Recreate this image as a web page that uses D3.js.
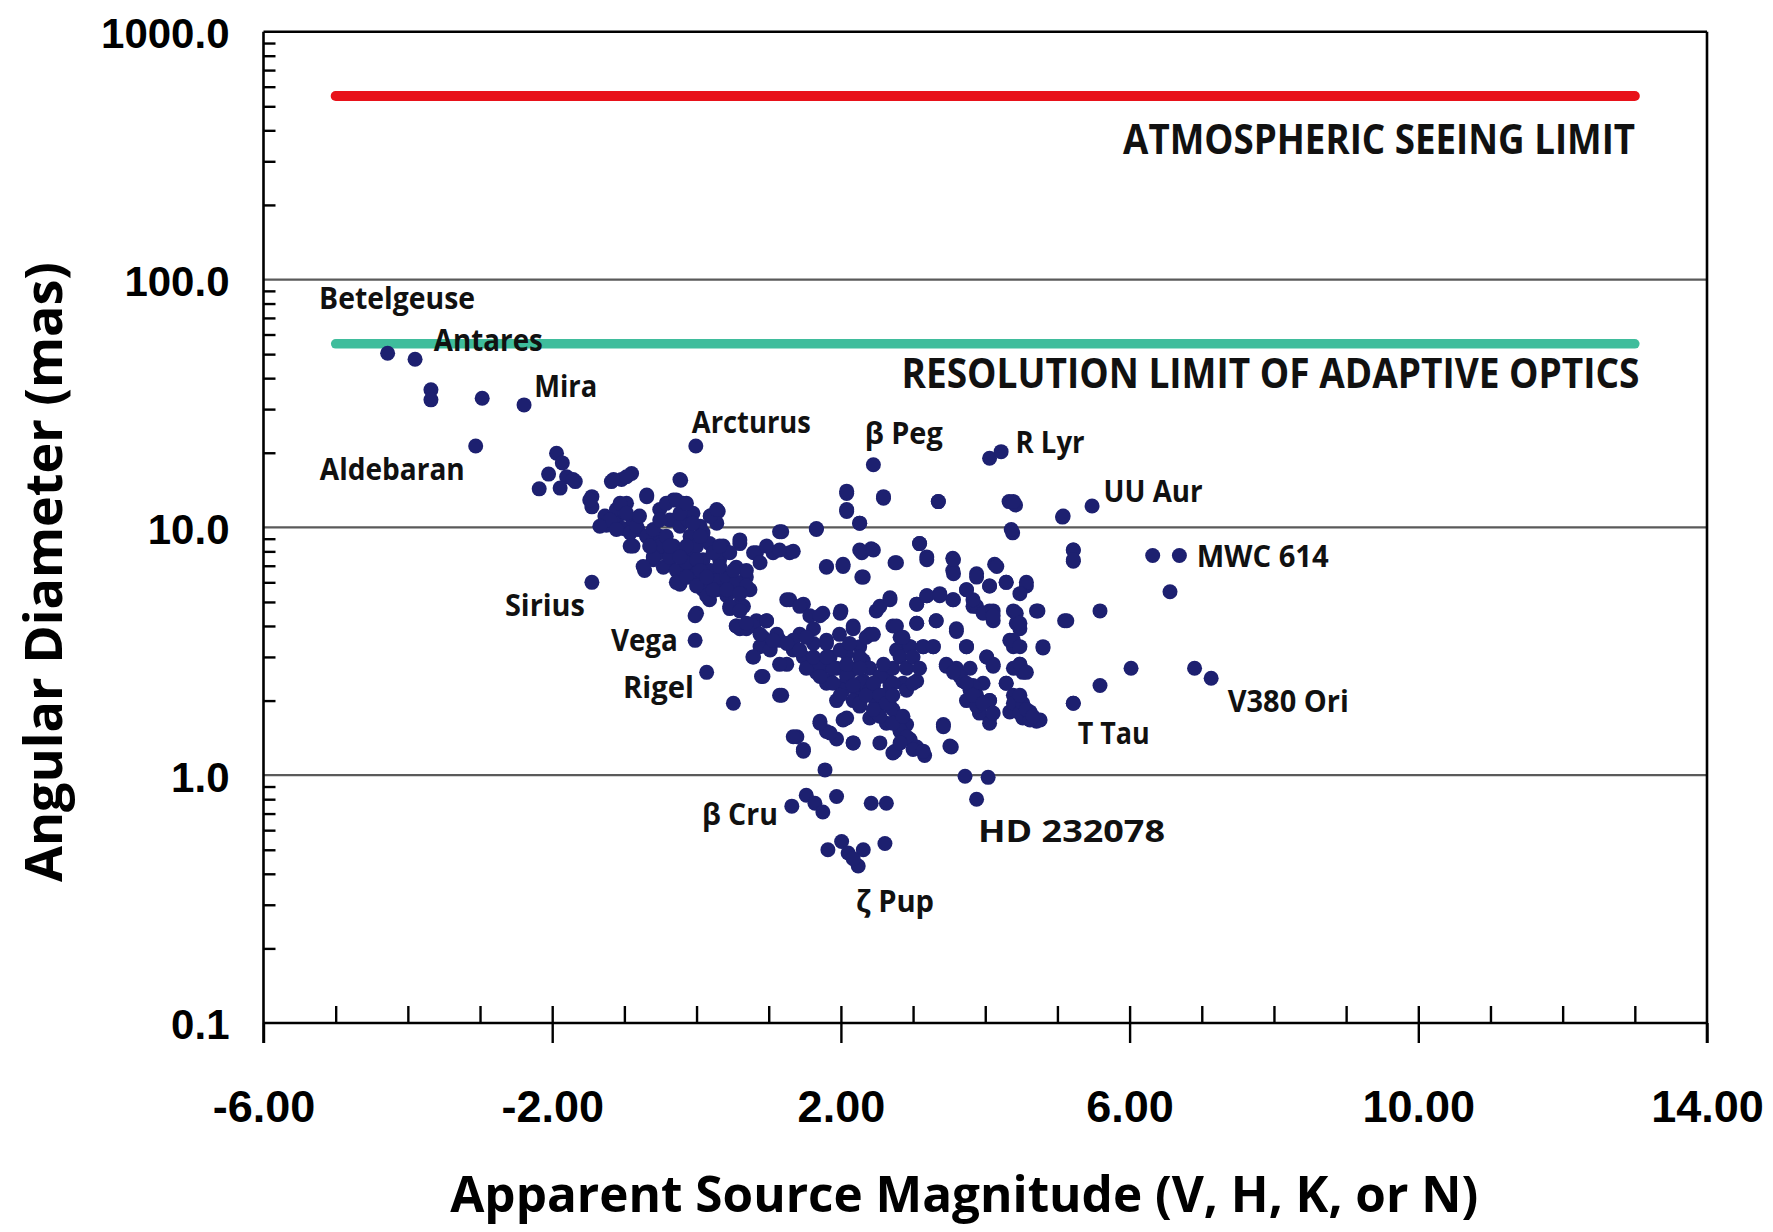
<!DOCTYPE html>
<html>
<head>
<meta charset="utf-8">
<title>Angular diameter vs apparent magnitude</title>
<script src="https://cdn.jsdelivr.net/npm/d3@7"></script>
<style>
  body { margin: 0; background: #ffffff; }
  svg { display: block; }
</style>
</head>
<body>
<svg id="chart" width="1773" height="1232"></svg>
<script>
// ---- Axis ticks ----
const xTicks = [-6, -2, 2, 6, 10, 14];
const xTickLabels = ["-6.00", "-2.00", "2.00", "6.00", "10.00", "14.00"];
const yTicks = [0.1, 1, 10, 100, 1000];
const yTickLabels = ["0.1", "1.0", "10.0", "100.0", "1000.0"];

// ---- Reference limits (mas) and the magnitude span they are drawn over ----
const seeingLimit = 550;
const aoLimit = 55;
const limitSpan = [-5, 13];

// ---- Stars: apparent magnitude and angular diameter (mas) ----
const starMag = [
  -4.28, -3.90, -3.68, -3.68, -2.97, -2.39, -3.06, -0.01,
  -1.94, -1.86, -2.05, -1.80, -1.68, -2.18, -1.89, -1.45, -1.45, -1.18, -1.04, -0.90, -0.69, -0.22,
  -1.25, -1.27, -1.11, -1.11, -0.97, -0.99, -1.02, -0.88, -0.81, -0.88, -0.69, -0.60, -0.72, -0.51,
  -0.37, -0.28, -0.23, -0.23, -0.09,
  -0.51, -0.32, -0.19, -0.37, -0.23, -0.12, -0.09, 0.09, 0.19, 0.30, 0.28,
  1.18, 1.66, 2.08, 2.08, -1.45,
  -0.92, -0.51, -0.32, -0.46, -0.14, -0.60, -0.05, 0.05,
  0.00, 0.18, 0.37, 0.60, 0.83, 1.06, 1.29,
  -0.05, 0.09, 0.23, 0.37, 0.55, 0.69, 0.51, 0.74, 0.09, 0.18, 0.00, -0.02, 0.14, 0.51,
  0.46, 0.65, 0.60, 0.78, 0.90, 1.18, 0.83, 0.97, 1.02, 1.15, 1.25, 1.29, 1.48, 1.75, 2.00,
  1.43, 1.62, 1.80, 1.98, 2.17, 2.40, 1.85, 2.08, 2.26,
  1.66, 1.85, 2.03, 2.22, 2.35, 2.49, 1.75, 1.94, 2.12, 2.31, 2.45, 2.22, 2.31,
  2.68, 2.77, 2.91, 2.95, 2.82, 3.05, 3.16, 2.75, 2.40, 2.26, 2.08, 2.17, 1.71, 1.80, 1.94, 1.39, 1.48, 1.78,
  2.63, 2.68, 2.86, 3.05, 2.77, 2.86, 2.95, 3.14, 3.28, 2.72, 2.82, 3.05, 3.05, 3.19, 3.37, 3.55, 3.32, 3.60, 3.74,
  3.46, 3.60, 3.79, 3.69, 3.79, 3.88, 3.92, 4.06, 3.97, 4.06, 3.42, 3.53,
  4.02, 4.11, 4.29, 4.39, 4.34, 4.48, 4.52, 4.71, 4.62, 4.48, 4.52, 4.34, 4.39, 4.80, 4.73, 5.10, 5.59, 6.02, 5.59, 5.22, 6.90, 7.13,
  4.43, 4.43, 4.48, 4.57, 4.29, 4.13, 3.88, 4.06, 3.74, 3.83, 4.06, 4.11, 3.55, 3.55, 3.19, 3.09, 2.75, 2.31, 2.29, 2.42, 1.80, 2.03, 2.49, 2.68,
  5.22, 5.22, 6.32, 6.69, 6.56,
  3.72, 4.04, 3.88,
  1.32, 1.52, 1.64, 1.75, 1.94, 2.42, 2.63,
  0.55, 0.69, 0.92, 1.34, 1.48, 1.62, 1.52, 1.94, 2.49, 2.59,
  0.32, 0.46, 0.05, 0.28, 0.42, 0.60,
  1.82, 2.01, 2.10, 2.24, 2.31, 2.61, 2.17,
  2.45, 2.59, 3.35, 4.06, 4.22, 4.33, 4.42, 4.38, 5.07, 5.48, 2.26,
  // main sequence band, giants branch
  -1.71, -1.48, -1.15, -0.97, -1.06, -1.20, -0.97, -0.83, -0.69, -0.51, -0.60, -0.37, -0.28, -0.14,
  -0.05, 0.09, 0.19, 0.28, 0.42, 0.55, 0.69, 0.14, 0.23, 0.32, 0.05, -0.05, -0.23, -0.42, -0.28,
  -0.14, 0.19, 0.28, -0.69, -0.23, -0.92, -0.74, -0.28, -0.02,
  0.60, 0.79, 0.97, 1.15, 1.34, 1.15, 0.88, 0.69, 0.46, 0.60,
  -1.34, -1.11, -0.79, -0.60, -0.51, -0.42, -0.65, -0.37, -0.14, -0.23, 0.00, 0.05, -0.14, 0.00,
  0.23, 0.42, 0.51, 0.60, 0.32, 0.14,
  // central band
  0.55, 0.79, 0.97, 1.11, 1.34, 1.25, 1.43, 1.57, 1.71, 1.62, 1.80, 1.99, 2.12, 2.17, 1.99, 2.26,
  1.71, 1.89, 2.08, 2.26, 1.80, 2.03, 2.17, 2.40, 2.49, 2.72, 2.63, 2.82, 2.96, 3.00, 2.72, 2.54,
  2.40, 2.35, 2.45, 2.54, 2.72, 2.91, 2.72, 2.82, 2.96, 3.14, 3.28, 2.77, 2.86,
  0.88, 1.02, 1.15, 0.79, 0.92, 1.15, 1.34, 1.48, 1.71, 1.85, 2.03, 2.17, 2.26, 2.54, 3.14, 3.42, 3.51,
  0.69, 0.88, 1.06, 1.25, 1.43, 1.62, 1.52, 1.80, 2.08, 1.71, 1.89, 1.99, 2.17, 2.26, 2.35, 2.45,
  2.54, 2.63, 2.45, 2.72, 2.86, 2.91, 2.82, 2.59, 2.91, 3.00, 2.72, 3.00, 3.09,
  // fainter cluster
  3.05, 3.19, 3.37, 3.56, 3.60, 3.74, 3.46, 3.65, 3.83, 3.74, 3.92, 4.06, 3.88, 4.06, 4.02, 4.11,
  4.29, 4.39, 4.48, 4.62, 4.76, 4.52, 4.39, 4.48, 4.57, 4.39, 4.48, 4.39, 4.48, 4.71, 4.80, 5.13,
  5.22, 3.88, 3.97, 4.11, 4.11, 3.83, 3.88, 4.06, 4.29, 4.57, 4.48, 3.74, 4.16, 3.56, 3.56, 3.19,
  3.09, 3.32, 3.05, 2.77, 2.26, 2.45, 2.29, 2.03, 1.80, 2.08, 2.08, 2.26, 2.59, 3.35, 4.39, 4.36,
  5.08, 5.22, 5.22, 1.66, 2.54, 2.68,
  3.56, 3.74, 3.83, 3.97, 4.11, 4.48, 4.57, 4.66
];
const starDiam = [
  50.4, 47.7, 35.9, 32.7, 33.2, 31.2, 21.3, 21.3,
  19.9, 18.2, 16.4, 16.0, 15.3, 14.3, 14.4, 13.3, 12.1, 15.3, 15.6, 16.5, 13.5, 15.5,
  10.2, 11.1, 10.7, 11.8, 12.5, 11.4, 9.9, 10.7, 9.8, 8.4, 9.2, 8.4, 6.7, 7.9,
  7.4, 7.9, 6.5, 5.9, 6.3,
  11.8, 12.9, 12.5, 10.7, 10.1, 10.7, 9.2, 9.5, 11.1, 11.6, 10.4,
  9.6, 9.8, 13.7, 11.6, 6.0,
  9.5, 9.2, 8.4, 6.9, 7.9, 7.4, 11.4, 10.1,
  8.4, 8.6, 8.4, 8.6, 7.9, 7.9, 7.9,
  6.7, 7.4, 6.5, 6.1, 6.9, 6.3, 5.8, 5.6, 5.6, 5.1, 4.5, 3.5, 2.6, 1.95,
  4.7, 4.8, 3.9, 3.0, 2.5, 2.1, 4.2, 4.2, 3.3, 3.5, 2.8, 5.1, 4.9, 4.5, 4.6,
  3.7, 3.4, 3.5, 3.7, 4.0, 3.7, 3.0, 3.1, 3.3,
  2.6, 2.4, 2.3, 2.2, 2.1, 2.0, 2.7, 2.7, 2.6, 2.4, 2.3, 2.7, 2.9,
  1.9, 1.7, 1.6, 1.4, 1.5, 1.3, 1.2, 1.25, 1.7, 1.9, 1.7, 1.35, 1.65, 1.5, 1.4, 1.43, 1.25, 1.05,
  2.5, 2.3, 2.35, 2.4, 3.2, 3.5, 3.3, 3.3, 3.3, 4.0, 3.6, 4.1, 4.9, 5.3, 5.4, 5.1, 4.2, 3.8, 3.3,
  2.8, 2.7, 2.7, 2.4, 2.2, 2.1, 1.8, 1.7, 2.35, 2.0, 1.6, 1.3,
  3.0, 2.8, 2.35, 2.1, 1.8, 1.9, 1.7, 1.65, 1.8, 2.8, 2.6, 3.5, 3.3, 3.3, 4.6, 4.2, 4.6, 2.7, 2.3, 1.95, 2.7, 2.46,
  4.5, 4.1, 3.9, 5.8, 6.0, 7.1, 6.5, 5.8, 5.6, 4.8, 4.6, 4.2, 7.5, 6.7, 7.6, 8.6, 7.2, 6.3, 7.9, 8.2, 6.9, 7.1, 4.6, 5.1,
  8.1, 7.3, 7.7, 7.7, 5.5,
  0.99, 0.98, 0.80,
  0.75, 0.83, 0.77, 0.71, 0.82, 0.77, 0.77,
  4.0, 3.9, 3.6, 3.2, 3.0, 2.9, 2.7, 2.0, 1.8, 2.1,
  7.4, 7.9, 6.1, 5.6, 5.3, 4.9,
  0.50, 0.54, 0.485, 0.43, 0.50, 0.53, 0.46,
  17.9, 13.1, 12.7, 19.0, 20.2, 12.7, 12.3, 9.5, 11.0, 12.2, 10.4,
  // main sequence band, giants branch
  15.6, 12.9, 15.6, 16.0, 12.5, 10.7, 11.4, 10.1, 9.2, 8.4, 7.6, 7.6, 6.7, 7.2,
  6.3, 5.8, 6.7, 6.1, 6.3, 6.0, 5.8, 5.3, 7.9, 8.4, 9.2, 10.4, 11.4, 12.5, 12.9,
  12.5, 11.1, 11.8, 13.3, 15.6, 8.4, 6.95, 6.0, 4.4,
  8.9, 7.9, 8.4, 8.1, 8.0, 9.6, 7.2, 6.7, 4.8, 4.6,
  10.1, 9.8, 11.1, 9.8, 10.7, 9.2, 8.4, 8.4, 8.4, 7.6, 7.4, 6.7, 6.3, 5.8,
  5.6, 5.6, 6.7, 5.4, 6.95, 6.3,
  // central band
  4.0, 4.0, 4.2, 3.7, 3.5, 5.1, 4.8, 4.4, 4.4, 3.9, 3.4, 3.2, 3.4, 3.9, 4.5, 3.0,
  2.8, 2.7, 2.5, 2.35, 2.35, 2.2, 2.0, 2.2, 1.95, 1.84, 1.62, 1.52, 1.39, 1.27, 1.23, 1.73,
  2.7, 3.6, 3.7, 2.5, 2.35, 2.2, 2.7, 3.0, 3.3, 3.3, 3.3, 4.0, 3.6,
  3.3, 3.2, 2.8, 3.0, 2.5, 2.1, 1.43, 1.27, 1.62, 1.48, 1.67, 1.35, 1.95, 1.35, 1.25, 1.57, 1.31,
  4.1, 3.7, 3.5, 3.4, 3.2, 3.0, 3.6, 3.0, 2.8, 2.5, 2.35, 2.1, 2.3, 2.7, 2.1, 2.35,
  2.1, 1.95, 1.84, 1.62, 1.73, 1.43, 1.35, 2.8, 2.7, 3.0, 2.1, 2.35, 2.7,
  // fainter cluster
  4.9, 5.3, 5.3, 5.1, 3.9, 3.3, 2.75, 2.5, 2.3, 2.0, 1.78, 1.62, 1.9, 2.0, 3.0, 2.75,
  2.35, 1.95, 1.78, 1.67, 1.67, 1.95, 2.7, 2.8, 2.6, 3.5, 3.3, 4.6, 4.1, 4.6, 3.26, 4.2,
  1.95, 4.8, 4.5, 4.6, 4.4, 5.1, 6.3, 5.8, 6.0, 6.0, 5.4, 5.6, 6.95, 7.4, 6.5, 7.4,
  8.6, 4.2, 4.1, 7.2, 8.1, 8.1, 6.3, 6.95, 6.95, 11.8, 14.0, 10.4, 13.3, 12.7, 12.7, 9.8,
  11.1, 8.1, 7.4, 9.9, 4.8, 5.2,
  2.6, 2.35, 2.1, 1.95, 1.78, 2.1, 1.84, 1.73
];

// ---- Named stars: label text and where each label sits (magnitude, mas) ----
const labelNames = ["Betelgeuse", "Antares", "Mira", "Arcturus", "Aldebaran", "\u03B2 Peg", "R Lyr",
  "UU Aur", "MWC 614", "Sirius", "Vega", "Rigel", "V380 Ori", "T Tau", "\u03B2 Cru", "HD 232078", "\u03B6 Pup"];
const labelMag = [-5.23, -3.64, -2.25, -0.065, -5.22, 2.33, 4.42, 5.64, 6.93, -2.655, -1.187, -1.02, 7.36, 5.28, 0.074, 3.90, 2.21];
const labelDiam = [75.8, 51.5, 33.7, 24.0, 15.5, 21.7, 20.0, 12.6, 6.93, 4.39, 3.18, 2.05, 1.80, 1.34, 0.631, 0.539, 0.281];

// ---- Limit captions (left edge magnitude, baseline in mas) ----
const captionText = ["ATMOSPHERIC SEEING LIMIT", "RESOLUTION LIMIT OF ADAPTIVE OPTICS"];
const captionMag = [5.91, 2.84];
const captionDiam = [321, 36.5];

// ================= drawing =================
const svg = d3.select("#chart");
const plotLeft = 263.5, plotRight = 1707, plotTop = 31.7, plotBottom = 1023;

const x = d3.scaleLinear().domain([-6, 14]).range([plotLeft, plotRight]);
const y = d3.scaleLog().domain([0.1, 1000]).range([plotBottom, plotTop]);

const NAVY = "#1d2070";
const TICK_FONT = "'Liberation Sans', Arial, sans-serif";
const TEXT_FONT = "'Open Sans', 'Noto Sans', sans-serif";

// Decade gridlines inside the frame
svg.append("g").selectAll("line")
  .data([1, 10, 100])
  .join("line")
  .attr("x1", x(-6)).attr("x2", x(14))
  .attr("y1", d => y(d)).attr("y2", d => y(d))
  .attr("stroke", "#5a5a5a").attr("stroke-width", 2.2);

// Limit lines
const limits = [
  { v: seeingLimit, color: "#e8121a", w: 10 },
  { v: aoLimit, color: "#3fbd9c", w: 9.5 }
];
svg.append("g").selectAll("line")
  .data(limits)
  .join("line")
  .attr("x1", x(limitSpan[0])).attr("x2", x(limitSpan[1]))
  .attr("y1", d => y(d.v)).attr("y2", d => y(d.v))
  .attr("stroke", d => d.color).attr("stroke-width", d => d.w)
  .attr("stroke-linecap", "round");

// Stars
const stars = starMag.map((m, i) => ({ m, d: starDiam[i] }));
svg.append("g").selectAll("circle")
  .data(stars)
  .join("circle")
  .attr("cx", s => x(s.m))
  .attr("cy", s => y(s.d))
  .attr("r", 7.5)
  .attr("fill", NAVY);

// Star name labels (target widths keep the condensed look of the lettering)
const labelWidth = {
  "Betelgeuse": 156, "Antares": 109, "Mira": 63, "Arcturus": 119, "Aldebaran": 145,
  "\u03B2 Peg": 78, "R Lyr": 69, "UU Aur": 99, "MWC 614": 132, "Sirius": 80, "Vega": 67,
  "Rigel": 71, "V380 Ori": 121, "T Tau": 72, "\u03B2 Cru": 76, "HD 232078": 187, "\u03B6 Pup": 78
};
svg.append("g").selectAll("text")
  .data(labelNames)
  .join("text")
  .attr("x", (n, i) => x(labelMag[i]))
  .attr("y", (n, i) => y(labelDiam[i]))
  .attr("font-family", TEXT_FONT)
  .attr("font-weight", 700)
  .attr("font-size", 30)
  .attr("fill", "#111")
  .attr("textLength", n => labelWidth[n])
  .attr("lengthAdjust", "spacingAndGlyphs")
  .text(n => n);

// Limit captions
const captionWidth = [512, 738];
svg.append("g").selectAll("text")
  .data(captionText)
  .join("text")
  .attr("x", (t, i) => x(captionMag[i]))
  .attr("y", (t, i) => y(captionDiam[i]))
  .attr("font-family", TEXT_FONT)
  .attr("font-weight", 700)
  .attr("font-size", 41)
  .attr("fill", "#111")
  .attr("textLength", (t, i) => captionWidth[i])
  .attr("lengthAdjust", "spacingAndGlyphs")
  .text(t => t);

// Frame: top and right edges plus the two axis lines
const frame = svg.append("g").attr("stroke", "#000").attr("stroke-width", 2.6);
frame.append("line").attr("x1", x(-6)).attr("x2", x(14)).attr("y1", y(1000)).attr("y2", y(1000));
frame.append("line").attr("x1", x(14)).attr("x2", x(14)).attr("y1", y(1000)).attr("y2", y(0.1) + 20);
frame.append("line").attr("x1", x(-6)).attr("x2", x(-6)).attr("y1", y(1000)).attr("y2", y(0.1) + 20);
frame.append("line").attr("x1", x(-6)).attr("x2", x(14)).attr("y1", y(0.1)).attr("y2", y(0.1));

// X axis: unit ticks pointing up, major ticks crossing below with labels
const unitTicks = d3.range(-5, 14);
const xMinor = svg.append("g")
  .attr("transform", `translate(0,${y(0.1)})`)
  .call(d3.axisTop(x).tickValues(unitTicks).tickSize(17).tickFormat(""));
const xMajor = svg.append("g")
  .attr("transform", `translate(0,${y(0.1)})`)
  .call(d3.axisBottom(x).tickValues(xTicks).tickSize(20).tickPadding(47)
    .tickFormat((d, i) => xTickLabels[i]));
[xMinor, xMajor].forEach(g => {
  g.select(".domain").remove();
  g.selectAll(".tick line").attr("stroke", "#000").attr("stroke-width", 2.4);
});
xMajor.selectAll(".tick text")
  .attr("font-family", TICK_FONT).attr("font-weight", 700)
  .attr("font-size", 45).attr("fill", "#000");

// Y axis: log minor ticks inside, decade labels outside
const yMinorVals = [];
[0.1, 1, 10, 100].forEach(dec => { for (let k = 2; k <= 9; k++) yMinorVals.push(dec * k); });
const yMinor = svg.append("g")
  .attr("transform", `translate(${x(-6)},0)`)
  .call(d3.axisRight(y).tickValues(yMinorVals).tickSize(12).tickFormat(""));
yMinor.select(".domain").remove();
yMinor.selectAll(".tick line").attr("stroke", "#000").attr("stroke-width", 2.4);

const yMajor = svg.append("g")
  .attr("transform", `translate(${x(-6)},0)`)
  .call(d3.axisLeft(y).tickValues(yTicks).tickSize(0).tickPadding(34)
    .tickFormat((d, i) => yTickLabels[i]));
yMajor.select(".domain").remove();
yMajor.selectAll(".tick text")
  .attr("font-family", TICK_FONT).attr("font-weight", 700)
  .attr("font-size", 42).attr("fill", "#000").attr("dy", "0.38em");

// Axis titles
svg.append("text")
  .attr("x", (plotLeft + plotRight) / 2 - 21)
  .attr("y", 1212)
  .attr("text-anchor", "middle")
  .attr("font-family", TEXT_FONT).attr("font-weight", 700)
  .attr("font-size", 50).attr("fill", "#000")
  .attr("textLength", 1028).attr("lengthAdjust", "spacingAndGlyphs")
  .text("Apparent Source Magnitude (V, H, K, or N)");

svg.append("text")
  .attr("transform", "translate(62,572) rotate(-90)")
  .attr("text-anchor", "middle")
  .attr("font-family", TEXT_FONT).attr("font-weight", 700)
  .attr("font-size", 52).attr("fill", "#000")
  .attr("textLength", 620).attr("lengthAdjust", "spacingAndGlyphs")
  .text("Angular Diameter (mas)");
</script>
</body>
</html>
